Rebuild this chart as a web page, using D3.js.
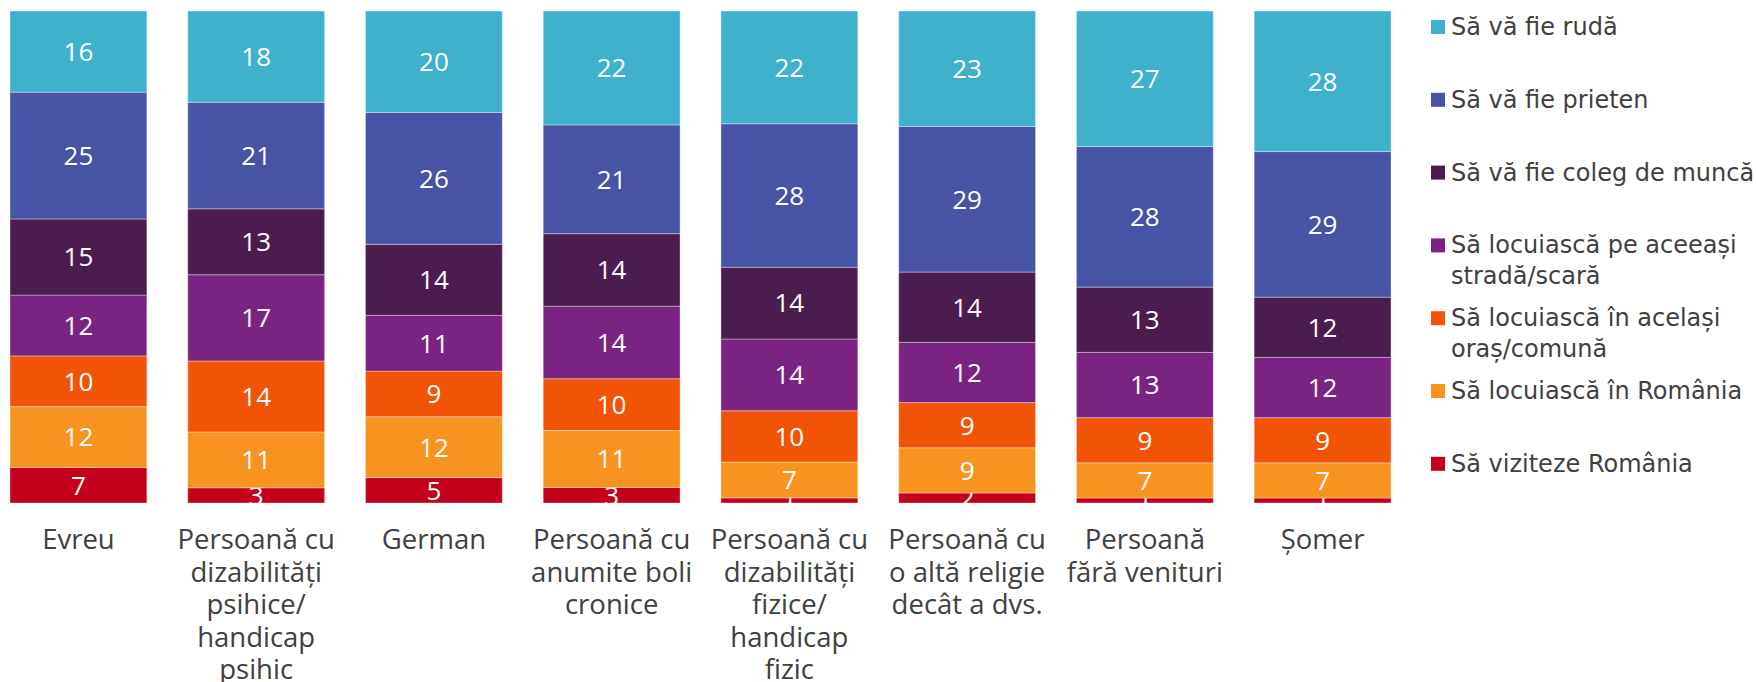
<!DOCTYPE html>
<html>
<head>
<meta charset="utf-8">
<script src="https://cdn.jsdelivr.net/npm/d3@7"></script>
<style>
  body { margin: 0; background: #fff; }
  svg { display: block; }
</style>
</head>
<body>
<svg id="chart" width="1756" height="682"></svg>
<script>
// categories (line breaks as in the original labels)
let categories = [
    "Evreu",
    "Persoană cu\ndizabilități\npsihice/\nhandicap\npsihic",
    "German",
    "Persoană cu\nanumite boli\ncronice",
    "Persoană cu\ndizabilități\nfizice/\nhandicap\nfizic",
    "Persoană cu\no altă religie\ndecât a dvs.",
    "Persoană\nfără venituri",
    "Șomer"
];

// series, bottom of the stack first
let seriesNames = [
    "Să viziteze România",
    "Să locuiască în România",
    "Să locuiască în același oraș/comună",
    "Să locuiască pe aceeași stradă/scară",
    "Să vă fie coleg de muncă",
    "Să vă fie prieten",
    "Să vă fie rudă"
];

let viziteze = [7, 3, 5, 3, 1, 2, 1, 1];
let romania  = [12, 11, 12, 11, 7, 9, 7, 7];
let oras     = [10, 14, 9, 10, 10, 9, 9, 9];
let strada   = [12, 17, 11, 14, 14, 12, 13, 12];
let coleg    = [15, 13, 14, 14, 14, 14, 13, 12];
let prieten  = [25, 21, 26, 21, 28, 29, 28, 29];
let ruda     = [16, 18, 20, 22, 22, 23, 27, 28];

let seriesValues = [viziteze, romania, oras, strada, coleg, prieten, ruda];
let colors = ["#c5001a", "#f7931e", "#f15307", "#7b2382", "#4b1d4f", "#4754a6", "#40b1cd"];

// table for d3.stack
let table = categories.map(function (c, i) {
    let row = { cat: c };
    seriesNames.forEach(function (s, j) { row[s] = seriesValues[j][i]; });
    return row;
});

let svg = d3.select("#chart");

let plot = { left: 10, right: 1391, top: 11, bottom: 503 };

let x = d3.scaleBand()
    .domain(categories)
    .range([plot.left, plot.right])
    .paddingInner(0.23)
    .paddingOuter(0);

let y = d3.scaleLinear()
    .domain([0, 1])
    .range([plot.bottom, plot.top]);

let color = d3.scaleOrdinal().domain(seriesNames).range(colors);

let stacked = d3.stack()
    .keys(seriesNames)
    .offset(d3.stackOffsetExpand)(table);

svg.append("defs").append("clipPath")
    .attr("id", "plotclip")
    .append("rect")
    .attr("x", plot.left)
    .attr("y", plot.top)
    .attr("width", plot.right - plot.left)
    .attr("height", plot.bottom - plot.top);

let layers = svg.append("g")
    .attr("clip-path", "url(#plotclip)")
    .selectAll("g")
    .data(stacked)
    .enter().append("g")
    .attr("fill", function (d) { return color(d.key); });

layers.selectAll("rect")
    .data(function (d) { return d; })
    .enter().append("rect")
    .attr("x", function (d) { return x(d.data.cat); })
    .attr("y", function (d) { return y(d[1]); })
    .attr("width", x.bandwidth())
    .attr("height", function (d) { return y(d[0]) - y(d[1]); })
    .attr("stroke", "rgba(255,255,255,0.35)")
    .attr("stroke-width", 1);

layers.selectAll("text")
    .data(function (d) { return d.map(function (v) { v.key = d.key; return v; }); })
    .enter().append("text")
    .attr("x", function (d) { return x(d.data.cat) + x.bandwidth() / 2; })
    .attr("y", function (d) { return (y(d[0]) + y(d[1])) / 2; })
    .attr("dy", "0.36em")
    .attr("text-anchor", "middle")
    .attr("fill", "#fff")
    .style("font-family", "'Open Sans', sans-serif")
    .style("font-size", "26px")
    .text(function (d) { return d.data[d.key]; });

// category labels
let catLabels = svg.append("g")
    .selectAll("text")
    .data(categories)
    .enter().append("text")
    .attr("text-anchor", "middle")
    .attr("fill", "#404040")
    .style("font-family", "'Open Sans', sans-serif")
    .style("font-size", "27.5px")
    .attr("transform", function (d) {
        return "translate(" + (x(d) + x.bandwidth() / 2) + ",549)";
    });

catLabels.selectAll("tspan")
    .data(function (d) { return d.split("\n"); })
    .enter().append("tspan")
    .attr("x", 0)
    .attr("y", function (d, i) { return i * 32.5; })
    .text(function (d) { return d; });

// legend, top item first
let legendItems = seriesNames.slice().reverse();
let legend = svg.append("g")
    .selectAll("g")
    .data(legendItems)
    .enter().append("g")
    .attr("transform", function (d, i) { return "translate(1431," + (35 + i * 72.8) + ")"; });

legend.append("rect")
    .attr("x", 0)
    .attr("y", -15)
    .attr("width", 14)
    .attr("height", 14)
    .attr("fill", function (d) { return color(d); });

legend.append("text")
    .attr("x", 20)
    .attr("fill", "#404040")
    .style("font-family", "'DejaVu Sans', Verdana, sans-serif")
    .style("font-size", "24px")
    .each(function (d) {
        let text = d3.select(this);
        let words = d.split(" ");
        let line = [];
        let lineNo = 0;
        let tspan = text.append("tspan").attr("x", 20).attr("y", 0);
        words.forEach(function (w) {
            line.push(w);
            tspan.text(line.join(" "));
            if (tspan.node().getComputedTextLength() > 318 && line.length > 1) {
                line.pop();
                tspan.text(line.join(" "));
                line = [w];
                lineNo++;
                tspan = text.append("tspan").attr("x", 20).attr("y", lineNo * 31).text(w);
            }
        });
    });
</script>
</body>
</html>
